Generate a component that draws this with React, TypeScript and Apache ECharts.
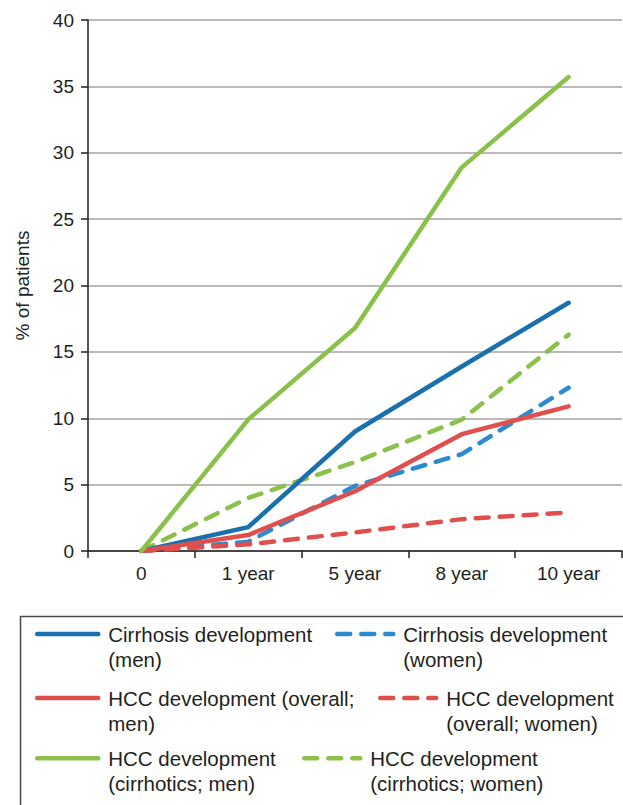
import React, { useEffect, useRef } from "react";
import * as echarts from "echarts";

const categories = ["0", "1 year", "5 year", "8 year", "10 year"];

const cirrhosisMen = [0, 1.8, 9.0, 13.9, 18.7];
const cirrhosisWomen = [0, 0.7, 4.9, 7.3, 12.3];
const hccOverallMen = [0, 1.2, 4.5, 8.8, 10.9];
const hccOverallWomen = [0, 0.5, 1.4, 2.4, 2.9];
const hccCirrhoticsMen = [0, 9.9, 16.8, 28.9, 35.7];
const hccCirrhoticsWomen = [0, 4.0, 6.7, 9.9, 16.3];

const names = {
  cm: "Cirrhosis development\n(men)",
  cw: "Cirrhosis development\n(women)",
  om: "HCC development (overall;\nmen)",
  ow: "HCC development\n(overall; women)",
  hm: "HCC development\n(cirrhotics; men)",
  hw: "HCC development\n(cirrhotics; women)",
};

const BLUE = "#1a6fad";
const BLUE_LIGHT = "#2c8bcf";
const RED = "#df4f4d";
const GREEN = "#8bc04b";
const TEXT = "#231f20";
const FONT = "'Liberation Sans', Arial, Helvetica, sans-serif";
const LW = 4.5;
const DASH = [13, 11];

export default function App() {
  const ref = useRef<HTMLDivElement>(null);

  useEffect(() => {
    if (!ref.current) return;
    const chart = echarts.init(ref.current, null, { renderer: "svg" });

    const mkSeries = (name: string, data: number[], color: string, dashed: boolean) => ({
      name,
      type: "line",
      data,
      symbol: "none",
      showSymbol: false,
      color,
      lineStyle: {
        color,
        width: LW,
        type: dashed ? DASH : "solid",
        cap: "round",
        join: "round",
      },
    });

    const LH = 25.5;
    const mkLegend = (name: string, left: number, iconCenterY: number, itemWidth: number) => ({
      data: [name],
      left,
      top: iconCenterY - 1.5 * LH,
      orient: "horizontal",
      padding: 0,
      itemWidth,
      itemHeight: 14,
      selectedMode: false,
      formatter: (n: string) => "\n" + n,
      lineStyle: { width: LW },
      itemStyle: { opacity: 0, color: "rgba(0,0,0,0)", borderWidth: 0 },
      textStyle: {
        fontFamily: FONT,
        fontSize: 20.5,
        lineHeight: LH,
        color: TEXT,
        padding: [0, 0, 0, 5],
        backgroundColor: "rgba(0,0,0,0)",
      },
    });

    chart.setOption({
      animation: false,
      backgroundColor: "#ffffff",
      grid: { left: 88, right: 1, top: 20, bottom: 254, containLabel: false },
      xAxis: {
        type: "category",
        data: categories,
        boundaryGap: true,
        axisLine: { show: true, lineStyle: { color: TEXT, width: 1.5 } },
        axisTick: { show: true, length: 7, alignWithLabel: false, lineStyle: { color: TEXT, width: 1.5 } },
        axisLabel: { fontFamily: FONT, fontSize: 19, color: TEXT, margin: 13 },
        splitLine: { show: false },
      },
      yAxis: {
        type: "value",
        min: 0,
        max: 40,
        interval: 5,
        name: "% of patients",
        nameLocation: "middle",
        nameGap: 56,
        nameTextStyle: { fontFamily: FONT, fontSize: 19, color: TEXT },
        axisLine: { show: true, lineStyle: { color: TEXT, width: 1.5 } },
        axisTick: { show: true, length: 7, lineStyle: { color: TEXT, width: 1.5 } },
        axisLabel: { fontFamily: FONT, fontSize: 19, color: TEXT, margin: 14 },
        splitLine: { show: true, lineStyle: { color: "#a3a3a3", width: 1.5 } },
      },
      legend: [
        mkLegend(names.cm, 35, 634, 61),
        mkLegend(names.cw, 335, 634, 56),
        mkLegend(names.om, 35, 698, 61),
        mkLegend(names.ow, 378, 698, 56),
        mkLegend(names.hm, 35, 758.3, 61),
        mkLegend(names.hw, 302, 758.3, 56),
      ],
      graphic: [
        {
          type: "rect",
          left: 18,
          top: 614,
          shape: { x: 0, y: 0, width: 700, height: 300 },
          style: { fill: "none", stroke: "#4a4a4a", lineWidth: 1.5 },
          silent: true,
        },
      ],
      series: [
        mkSeries(names.cw, cirrhosisWomen, BLUE_LIGHT, true),
        mkSeries(names.ow, hccOverallWomen, RED, true),
        mkSeries(names.hw, hccCirrhoticsWomen, GREEN, true),
        mkSeries(names.cm, cirrhosisMen, BLUE, false),
        mkSeries(names.om, hccOverallMen, RED, false),
        mkSeries(names.hm, hccCirrhoticsMen, GREEN, false),
      ],
    });

    return () => chart.dispose();
  }, []);

  return (
    <div
      ref={ref}
      style={{ position: "fixed", left: 0, top: 0, width: 623, height: 805, background: "#fff" }}
    />
  );
}
